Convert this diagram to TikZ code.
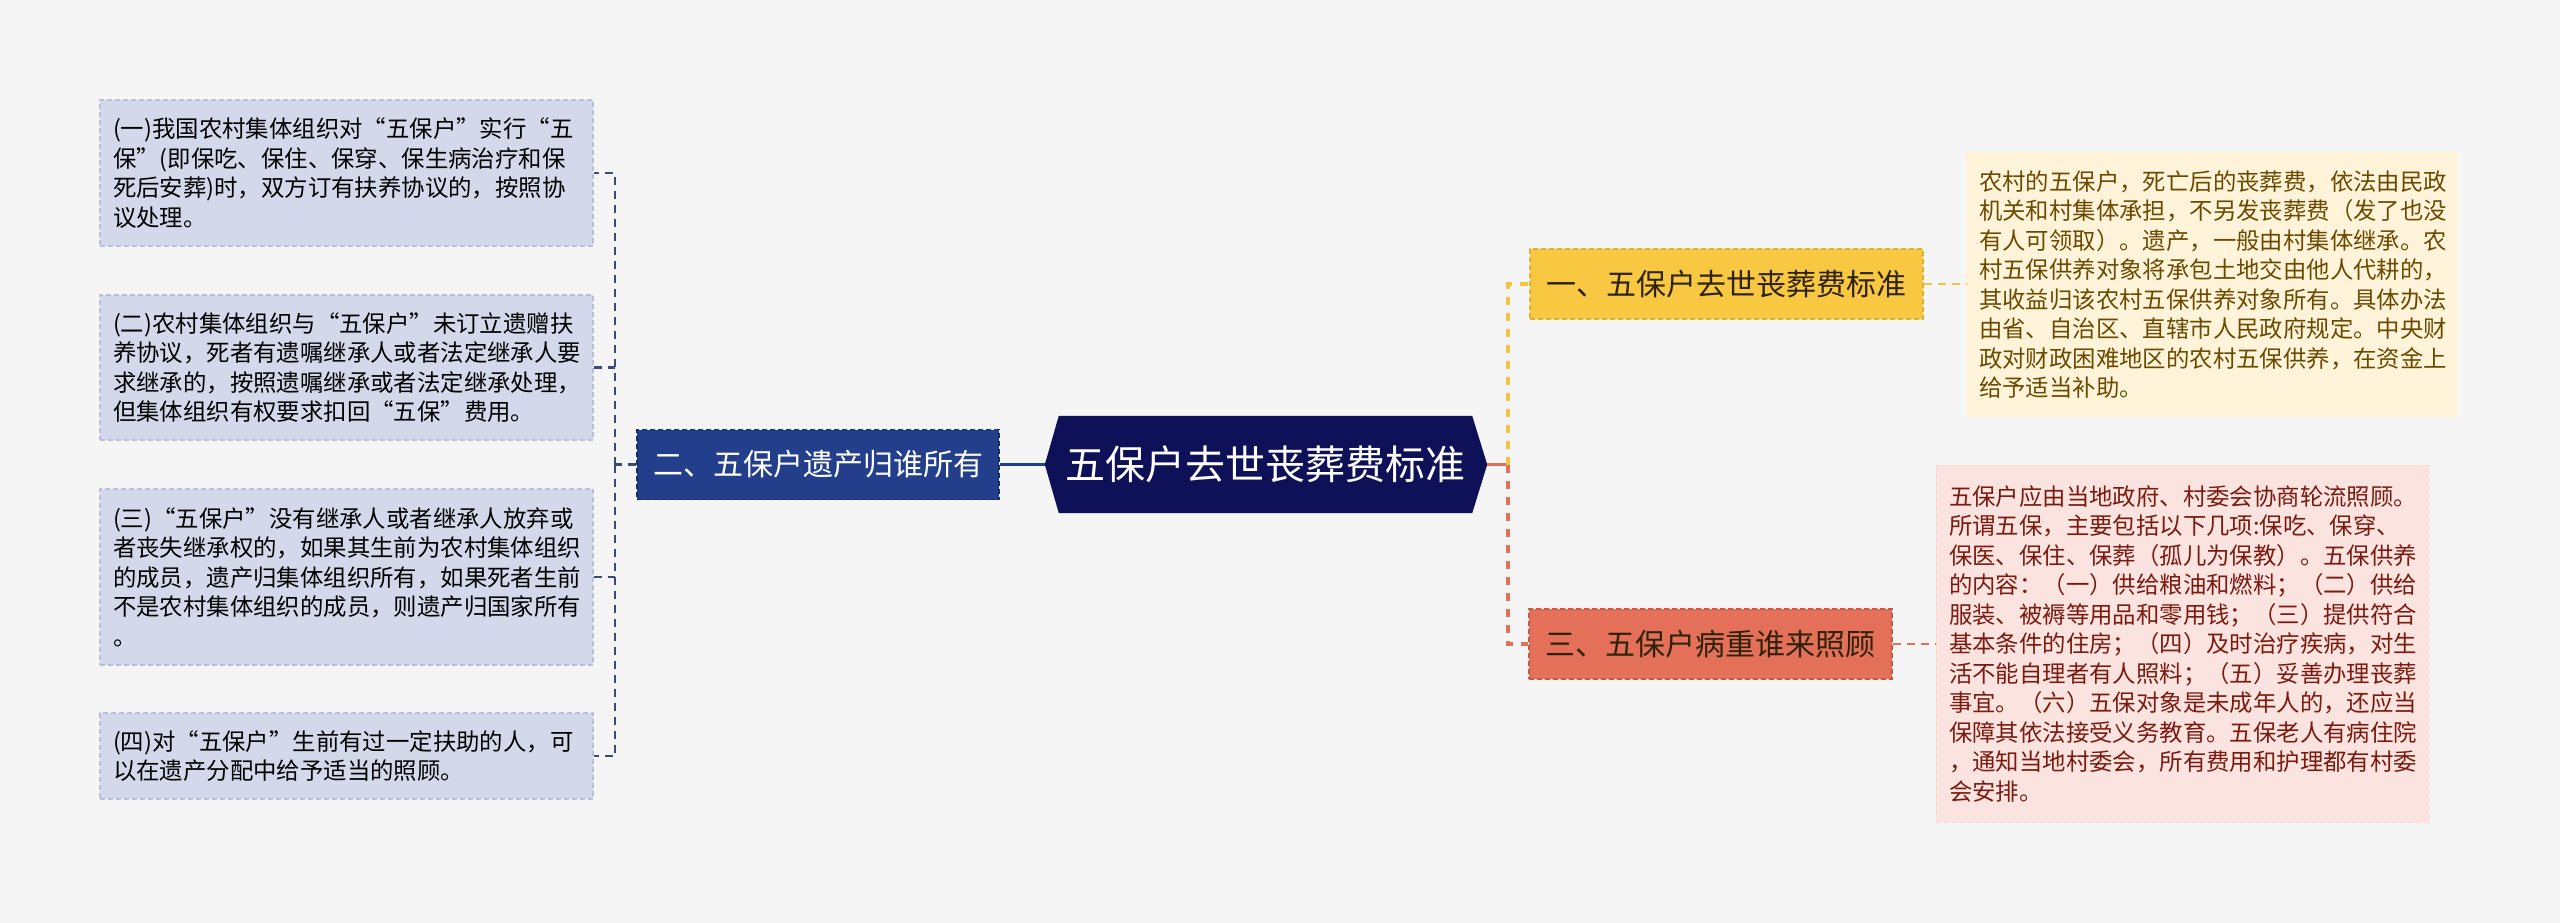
\documentclass[tikz,border=0pt]{standalone}
\usepackage{fontspec}
\setmainfont{Noto Sans CJK SC}
\definecolor{bg}{HTML}{F5F5F5}
\definecolor{navy}{HTML}{0E1158}
\definecolor{bluem}{HTML}{233F8B}
\definecolor{bluemb}{HTML}{1A2E66}
\definecolor{leafb}{HTML}{D3D9EA}
\definecolor{leafbb}{HTML}{B8C0D8}
\definecolor{lconn}{HTML}{3C4A7A}
\definecolor{yel}{HTML}{F8C842}
\definecolor{yelc}{HTML}{F5C340}
\definecolor{yelb}{HTML}{E3AE2E}
\definecolor{yelleaf}{HTML}{FFF4DA}
\definecolor{yeltext}{HTML}{6B4A00}
\definecolor{coral}{HTML}{E4705A}
\definecolor{coralb}{HTML}{C95840}
\definecolor{pinkleaf}{HTML}{FBE4DF}
\definecolor{redtext}{HTML}{7A1A10}
\definecolor{darktext}{HTML}{2E2208}
\tikzset{
  leaftext/.style={font=\fontsize{23.4}{29.5}\selectfont, align=left, inner sep=0pt},
  lleaf/.style={leaftext, fill=leafb, draw=leafbb, dash pattern=on 5pt off 3pt, line width=1.2pt, text=black, minimum width=493pt, text width=467pt},
  rleaf1/.style={leaftext, fill=yelleaf, minimum width=492pt, text width=466pt, text=yeltext},
  rleaf2/.style={leaftext, fill=pinkleaf, draw=pinkleaf!90!coral, dash pattern=on 5pt off 3pt, line width=1pt, minimum width=493pt, text width=467pt, text=redtext},
  branch/.style={font=\fontsize{30}{30}\selectfont, minimum height=70pt, inner sep=0pt, dash pattern=on 5pt off 3pt, line width=1.2pt},
  lconnst/.style={line width=2.2pt, dash pattern=on 8pt off 6pt, lconn},
  rconnst/.style={line width=3.5pt, dash pattern=on 8pt off 8pt},
}
\begin{document}
\begin{tikzpicture}[x=1pt,y=-1pt]
\fill[bg] (0,0) rectangle (2560,923);
\useasboundingbox (0,0) rectangle (2560,923);
% center
\node[minimum width=413pt, minimum height=97pt, inner sep=0pt] (c) at (1265.5,464.5) {};
\coordinate (cl) at ([xshift=-14pt]c.west);
\coordinate (cr) at ([xshift=15pt]c.east);
\fill[navy] (c.north west) -- (c.north east) -- (cr) -- (c.south east) -- (c.south west) -- (cl) -- cycle;
\node[text=white, font=\fontsize{40}{40}\selectfont] at (c.center) {五保户去世丧葬费标准};
% left main
\node[branch, fill=bluem, draw=bluemb, text=white, minimum width=362pt] (lm) at (818,464.5) {二、五保户遗产归谁所有};
% left leaves
\node[lleaf, minimum height=146pt] (l1) at (346.5,173) {(一)我国农村集体组织对“五保户”实行“五\\保”(即保吃、保住、保穿、保生病治疗和保\\死后安葬)时，双方订有扶养协议的，按照协\\议处理。};
\node[lleaf, minimum height=145pt] (l2) at (346.5,367.5) {(二)农村集体组织与“五保户”未订立遗赠扶\\养协议，死者有遗嘱继承人或者法定继承人要\\求继承的，按照遗嘱继承或者法定继承处理，\\但集体组织有权要求扣回“五保”费用。};
\node[lleaf, minimum height=176pt] (l3) at (346.5,577) {(三)“五保户”没有继承人或者继承人放弃或\\者丧失继承权的，如果其生前为农村集体组织\\的成员，遗产归集体组织所有，如果死者生前\\不是农村集体组织的成员，则遗产归国家所有\\。};
\node[lleaf, minimum height=86pt] (l4) at (346.5,756) {(四)对“五保户”生前有过一定扶助的人，可\\以在遗产分配中给予适当的照顾。};
% right branches
\node[branch, fill=yel, draw=yelb, text=darktext, minimum width=393pt] (r1) at (1726.5,284) {一、五保户去世丧葬费标准};
\node[branch, fill=coral, draw=coralb, text=darktext, minimum width=363pt] (r3) at (1710.5,644) {三、五保户病重谁来照顾};
% right leaves
\node[rleaf1, minimum height=265pt] (rl1) at (2212,284.5) {农村的五保户，死亡后的丧葬费，依法由民政\\机关和村集体承担，不另发丧葬费（发了也没\\有人可领取）。遗产，一般由村集体继承。农\\村五保供养对象将承包土地交由他人代耕的，\\其收益归该农村五保供养对象所有。具体办法\\由省、自治区、直辖市人民政府规定。中央财\\政对财政困难地区的农村五保供养，在资金上\\给予适当补助。};
\node[rleaf2, minimum height=357pt] (rl2) at (2182.5,643.5) {五保户应由当地政府、村委会协商轮流照顾。\\所谓五保，主要包括以下几项:保吃、保穿、\\保医、保住、保葬（孤儿为保教）。五保供养\\的内容：（一）供给粮油和燃料；（二）供给\\服装、被褥等用品和零用钱；（三）提供符合\\基本条件的住房；（四）及时治疗疾病，对生\\活不能自理者有人照料；（五）妥善办理丧葬\\事宜。（六）五保对象是未成年人的，还应当\\保障其依法接受义务教育。五保老人有病住院\\，通知当地村委会，所有费用和护理都有村委\\会安排。};
% connectors left
\coordinate (lj) at (615,464.5);
\draw[line width=3pt, bluem] (cl) -- (lm.east);
\draw[lconnst] (lm.west) -- (lj);
\draw[lconnst] (lj) |- (l1.east);
\draw[lconnst] (lj) |- (l4.east);
\draw[lconnst] (l2.east) -- (l2.east -| lj);
\draw[lconnst] (l3.east) -- (l3.east -| lj);
% connectors right
\coordinate (rj) at (1508,464.5);
\draw[line width=3.5pt, coral] (cr) -- (rj);
\draw[rconnst, yelc] (rj) |- (r1.west);
\draw[rconnst, coral] (rj) |- (r3.west);
\draw[line width=2pt, dash pattern=on 8pt off 6pt, yelc] (r1.east) -- (rl1.west |- r1.east);
\draw[line width=2pt, dash pattern=on 8pt off 6pt, coral] (r3.east) -- (rl2.west |- r3.east);
\end{tikzpicture}
\end{document}
